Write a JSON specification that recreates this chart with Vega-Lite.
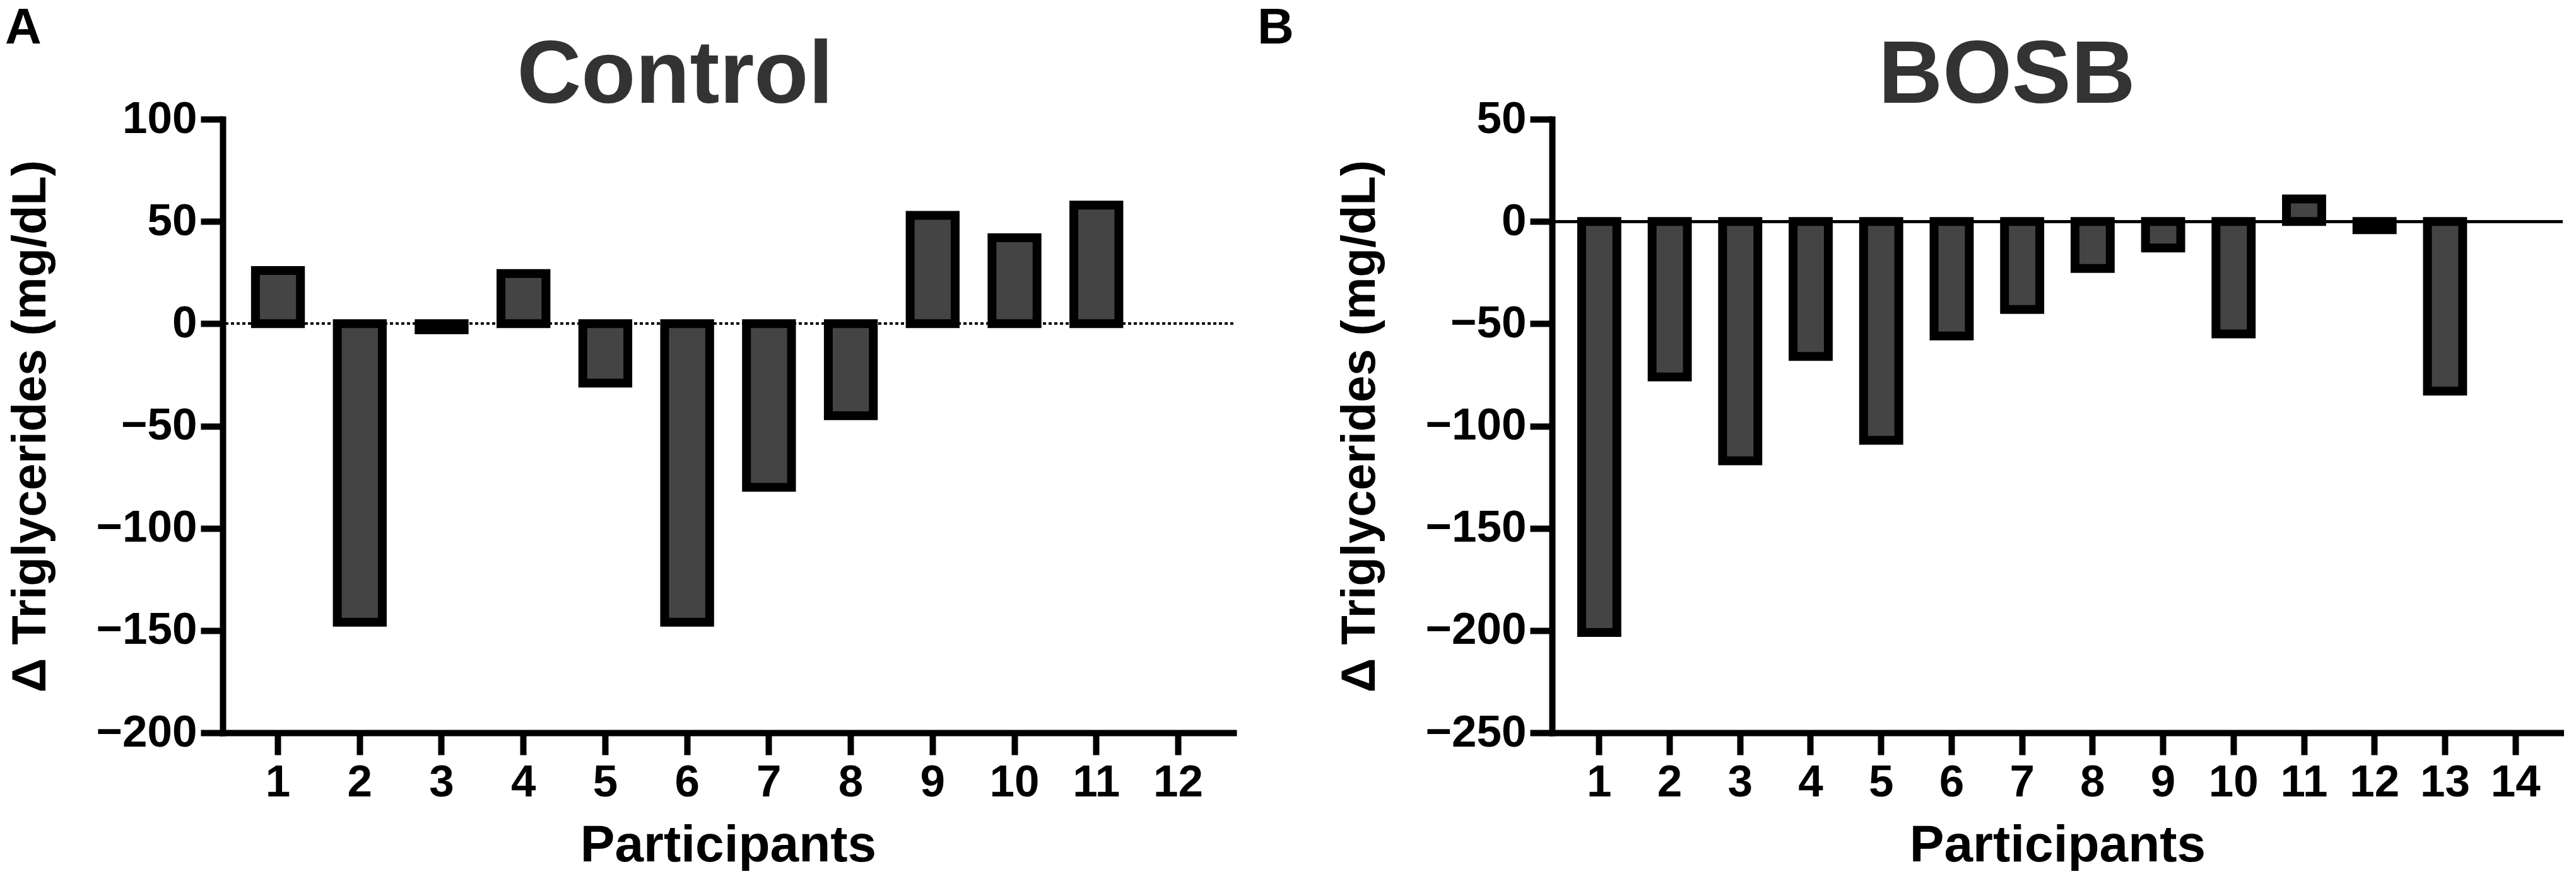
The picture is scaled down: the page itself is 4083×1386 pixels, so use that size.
{
  "$schema": "https://vega.github.io/schema/vega-lite/v6.json",
  "background": "white",
  "padding": {"left": 8, "top": 5, "right": 0, "bottom": 0},
  "datasets": {
    "control": [
      {"participant": 1, "delta": 26},
      {"participant": 2, "delta": -146},
      {"participant": 3, "delta": -3},
      {"participant": 4, "delta": 24.5},
      {"participant": 5, "delta": -29},
      {"participant": 6, "delta": -146},
      {"participant": 7, "delta": -80},
      {"participant": 8, "delta": -45},
      {"participant": 9, "delta": 53},
      {"participant": 10, "delta": 42},
      {"participant": 11, "delta": 58}
    ],
    "bosb": [
      {"participant": 1, "delta": -201},
      {"participant": 2, "delta": -76},
      {"participant": 3, "delta": -117},
      {"participant": 4, "delta": -66},
      {"participant": 5, "delta": -107},
      {"participant": 6, "delta": -56},
      {"participant": 7, "delta": -43},
      {"participant": 8, "delta": -23},
      {"participant": 9, "delta": -13},
      {"participant": 10, "delta": -55},
      {"participant": 11, "delta": 11},
      {"participant": 12, "delta": -4},
      {"participant": 13, "delta": -83}
    ]
  },
  "spacing": 36,
  "hconcat": [
    {
      "title": {"text": "A", "anchor": "start", "frame": "bounds", "fontSize": 80, "color": "black", "offset": -36, "dx": -2},
      "vconcat": [
        {
          "title": {"text": "Control", "dx": -84, "offset": -40},
          "width": 1602,
          "height": 973,
          "data": {"name": "control"},
          "layer": [
            {
              "mark": {"type": "rule", "color": "black", "strokeWidth": 3, "strokeDash": [5, 4]},
              "encoding": {"y": {"datum": 0, "type": "quantitative"}}
            },
            {
              "mark": {"type": "bar", "fill": "#444444", "stroke": "black", "strokeWidth": 14},
              "encoding": {
                "x": {
                  "field": "participant",
                  "type": "ordinal",
                  "title": "Participants",
                  "scale": {"domain": [1, 2, 3, 4, 5, 6, 7, 8, 9, 10, 11, 12], "paddingInner": 0.45, "paddingOuter": 0.4}
                },
                "y": {
                  "field": "delta",
                  "type": "quantitative",
                  "title": "Δ Triglycerides (mg/dL)",
                  "scale": {"domain": [-200, 100], "nice": false},
                  "axis": {"values": [100, 50, 0, -50, -100, -150, -200]}
                }
              }
            }
          ]
        }
      ]
    },
    {
      "title": {"text": "B", "anchor": "start", "frame": "bounds", "fontSize": 80, "color": "black", "offset": -36, "dx": -124},
      "vconcat": [
        {
          "title": {"text": "BOSB", "dx": -80, "offset": -40},
          "width": 1602,
          "height": 973,
          "data": {"name": "bosb"},
          "layer": [
            {
              "mark": {"type": "rule", "color": "black", "strokeWidth": 4},
              "encoding": {"y": {"datum": 0, "type": "quantitative"}}
            },
            {
              "mark": {"type": "bar", "fill": "#444444", "stroke": "black", "strokeWidth": 14},
              "encoding": {
                "x": {
                  "field": "participant",
                  "type": "ordinal",
                  "title": "Participants",
                  "scale": {"domain": [1, 2, 3, 4, 5, 6, 7, 8, 9, 10, 11, 12, 13, 14], "paddingInner": 0.5, "paddingOuter": 0.42}
                },
                "y": {
                  "field": "delta",
                  "type": "quantitative",
                  "title": "Δ Triglycerides (mg/dL)",
                  "scale": {"domain": [-250, 50], "nice": false},
                  "axis": {"values": [50, 0, -50, -100, -150, -200, -250]}
                }
              }
            }
          ]
        }
      ]
    }
  ],
  "config": {
    "view": {"stroke": null},
    "font": "Liberation Sans",
    "title": {"font": "Liberation Sans", "fontSize": 141, "fontWeight": "bold", "color": "#333333"},
    "axis": {
      "grid": false,
      "domainColor": "black",
      "domainWidth": 10,
      "domainCap": "square",
      "tickColor": "black",
      "tickWidth": 10,
      "tickSize": 35,
      "labelFont": "Liberation Sans",
      "labelFontWeight": "bold",
      "labelFontSize": 71,
      "labelColor": "black",
      "titleFont": "Liberation Sans",
      "titleFontWeight": "bold",
      "titleColor": "black"
    },
    "axisX": {"labelAngle": 0, "labelPadding": 9, "titlePadding": 24, "titleFontSize": 82},
    "axisY": {"labelPadding": 6, "titlePadding": 66, "titleFontSize": 76}
  }
}
